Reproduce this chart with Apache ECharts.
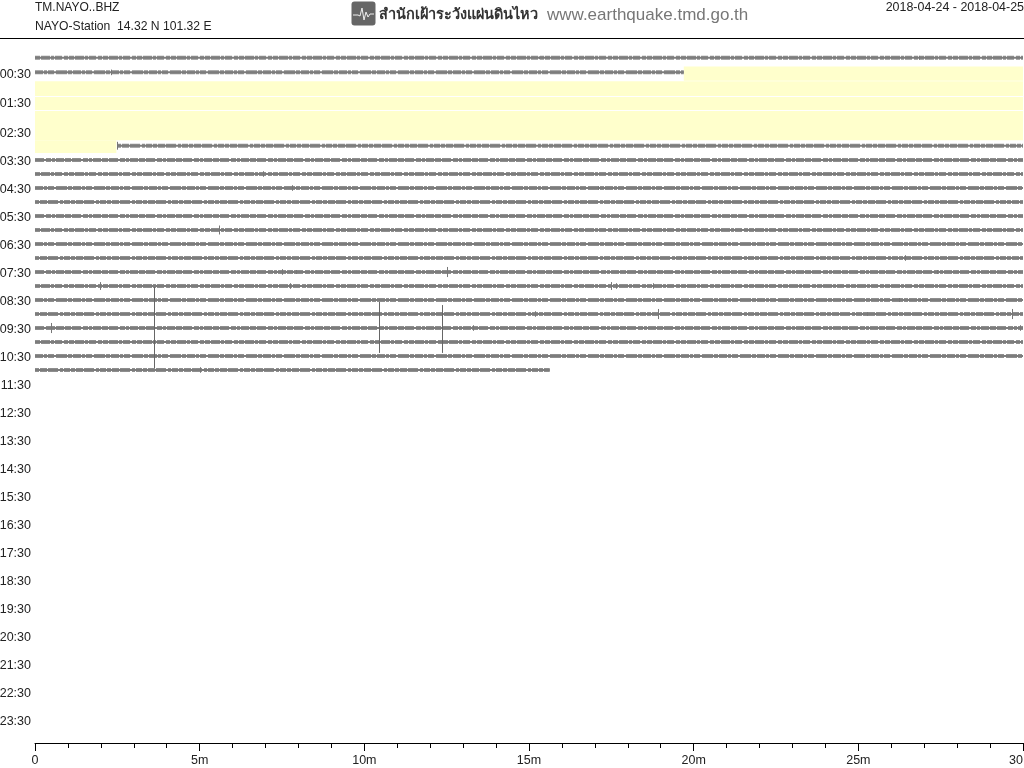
<!DOCTYPE html>
<html>
<head>
<meta charset="utf-8">
<style>html,body{margin:0;padding:0;background:#fff}#chart{width:1024px;height:768px}</style>
<script src="https://cdn.jsdelivr.net/npm/echarts@6/dist/echarts.min.js"></script>
</head>
<body>
<div id="chart"></div>
<script>
// Vertical positions of helicorder rows, in hours of the day
const rowHours = [-0.15,0.37,0.89,1.41,1.93,2.45,2.99,3.5,4,4.5,5,5.5,6,6.5,7,7.5,8,8.5,9,9.5,10,10.5,11];
// Recorded traces: [row, start minute, end minute]
const traces = [[0,0,30],[1,0,19.7],[6,2.49,30],[7,0,30],[8,0,30],[9,0,30],[10,0,30],[11,0,30],[12,0,30],[13,0,30],[14,0,30],[15,0,30],[16,0,30],[17,0,30],[18,0,30],[19,0,30],[20,0,30],[21,0,30],[22,0,15.63]];
// Missing data bands: [start minute, end minute, top hour, bottom hour]
const gaps = [[19.7,30,0.16,0.67],[0,30,0.69,1.21],[0,30,1.25,1.71],[0,30,1.75,2.79],[0,2.47,2.79,3.25]];
// Small spikes: [row, minute, half height in hours]
const spikes = [[1,2.32,0.1],[6,2.49,0.14],[8,6.91,0.1],[9,7.79,0.1],[12,5.6,0.16],[16,1.96,0.14],[16,7.73,0.1],[15,7.49,0.1],[15,7.91,0.07],[15,12.5,0.18],[16,17.48,0.14],[16,17.63,0.1],[16,18.78,0.1],[9,17.08,0.07],[14,26.43,0.1],[15,27.38,0.07],[18,29.67,0.18],[18,25.25,0.07],[19,29.92,0.1],[17,26.22,0.07],[18,18.93,0.18],[19,0.5,0.18],[22,5,0.1],[19,13.3,0.1],[18,15.17,0.1],[0,15.3,0.05],[0,26.85,0.07]];
// Large events: [minute, top hour, bottom hour]
const events = [[3.6,8.04,10.93],[10.44,8.57,10.39],[12.36,8.68,10.39]];
// Tick labels
const hourLabelPositions = [0.43,1.5,2.54,3.54,4.54,5.54,6.54,7.54,8.54,9.54,10.54,11.54,12.54,13.54,14.54,15.54,16.54,17.54,18.54,19.54,20.54,21.54,22.54,23.54];
const hourLabels = ['00:30','01:30','02:30','03:30','04:30','05:30','06:30','07:30','08:30','09:30','10:30','11:30','12:30','13:30','14:30','15:30','16:30','17:30','18:30','19:30','20:30','21:30','22:30','23:30'];
const minuteLabels = {0:'0',5:'5m',10:'10m',15:'15m',20:'20m',25:'25m',30:'30'};
// Trace textures
const dashes = [[5,1,9,1,3,1,7,2,4,1],[8,1,3,1,6,2,11,1,4,1],[4,1,7,1,10,2,3,1,6,1],[9,2,5,1,3,1,8,1,6,1]];

const chart = echarts.init(document.getElementById('chart'), null, {renderer:'canvas'});
const FONT = '"Liberation Sans", Arial, sans-serif';

const traceSeries = [];
traces.forEach((t,i)=>{
  const d=[[t[1],rowHours[t[0]]],[t[2],rowHours[t[0]]]];
  traceSeries.push({type:'line',silent:true,symbol:'none',animation:false,z:3,data:d,
    lineStyle:{color:'#8e8e8e',width:4,type:dashes[i%dashes.length],cap:'butt'}});
  traceSeries.push({type:'line',silent:true,symbol:'none',animation:false,z:3,data:d,
    lineStyle:{color:'#7c7c7c',width:2,cap:'butt'}});
});

const gapSeries = {
  type:'custom', silent:true, animation:false, z:1,
  data:gaps,
  encode:{x:[0,1],y:[2,3]},
  renderItem(p,api){
    const a=api.coord([api.value(0),api.value(2)]), b=api.coord([api.value(1),api.value(3)]);
    return {type:'rect',shape:{x:a[0],y:a[1],width:b[0]-a[0],height:b[1]-a[1]},style:{fill:'#ffffcc'}};
  }
};
const spikeSeries = {
  type:'custom', silent:true, animation:false, z:4,
  data:spikes.map(s=>[s[1],rowHours[s[0]]-s[2],rowHours[s[0]]+s[2]]),
  encode:{x:0,y:[1,2]},
  renderItem(p,api){
    const a=api.coord([api.value(0),api.value(1)]), b=api.coord([api.value(0),api.value(2)]);
    return {type:'line',shape:{x1:Math.round(a[0])+0.5,y1:a[1],x2:Math.round(a[0])+0.5,y2:b[1]},style:{stroke:'#777',lineWidth:1}};
  }
};
const eventSeries = {
  type:'custom', silent:true, animation:false, z:4,
  data:events,
  encode:{x:0,y:[1,2]},
  renderItem(p,api){
    const a=api.coord([api.value(0),api.value(1)]), b=api.coord([api.value(0),api.value(2)]);
    return {type:'line',shape:{x1:Math.round(a[0])+0.5,y1:a[1],x2:Math.round(a[0])+0.5,y2:b[1]},style:{stroke:'#666',lineWidth:1}};
  }
};

chart.setOption({
  animation:false,
  backgroundColor:'#fff',
  grid:{left:35,top:40,width:988,height:703,containLabel:false,outerBoundsMode:'none'},
  xAxis:{
    type:'value',min:0,max:30,interval:5,position:'bottom',
    splitLine:{show:false},
    axisLine:{show:true,onZero:false,lineStyle:{color:'#000',width:1}},
    axisTick:{show:true,length:8,lineStyle:{color:'#000'}},
    minorTick:{show:true,splitNumber:5,length:5,lineStyle:{color:'#000'}},
    axisLabel:{margin:11,color:'#222',fontFamily:FONT,fontSize:12.5,hideOverlap:false,showMinLabel:true,showMaxLabel:true,alignMaxLabel:'right',formatter:v=>minuteLabels[v]||''}
  },
  yAxis:{
    type:'value',inverse:true,min:-0.786,max:24.321,
    splitLine:{show:false},axisLine:{show:false},axisTick:{show:false},
    axisLabel:{
      margin:4,color:'#222',fontFamily:FONT,fontSize:12.5,
      customValues:hourLabelPositions,
      formatter:v=>hourLabels[hourLabelPositions.indexOf(v)]
    }
  },
  series:[gapSeries].concat(traceSeries,[spikeSeries,eventSeries]),
  graphic:[
    {type:'line',silent:true,shape:{x1:0,y1:38.5,x2:1024,y2:38.5},style:{stroke:'#000',lineWidth:1}},
    {type:'text',silent:true,x:35,y:8,style:{text:'TM.NAYO..BHZ',font:'12px '+FONT,fill:'#222',textVerticalAlign:'middle'}},
    {type:'text',silent:true,x:35,y:26.5,style:{text:'NAYO-Station  14.32 N 101.32 E',font:'12.15px '+FONT,fill:'#222',textVerticalAlign:'middle'}},
    {type:'text',silent:true,x:1024,y:7.5,style:{text:'2018-04-24 - 2018-04-25',font:'12.45px '+FONT,fill:'#222',textAlign:'right',textVerticalAlign:'middle'}},
    {type:'rect',silent:true,shape:{x:351.5,y:1.5,width:24,height:24,r:3},style:{fill:'#666'}},
    {type:'polyline',silent:true,shape:{points:[[353,15],[358,15],[360,16],[362,8],[364,20],[366,12],[368,17],[370,14],[374,14]]},style:{stroke:'#eee',fill:null,lineWidth:1}},
    {type:'text',silent:true,x:379,y:15,style:{text:'สำนักเฝ้าระวังแผ่นดินไหว',font:'bold 14.5px "Noto Sans", "DejaVu Sans", sans-serif',fill:'#333',textVerticalAlign:'middle'}},
    {type:'text',silent:true,x:547,y:15,style:{text:'www.earthquake.tmd.go.th',font:'17px '+FONT,fill:'#777',textVerticalAlign:'middle'}}
  ]
});
</script>
</body>
</html>
